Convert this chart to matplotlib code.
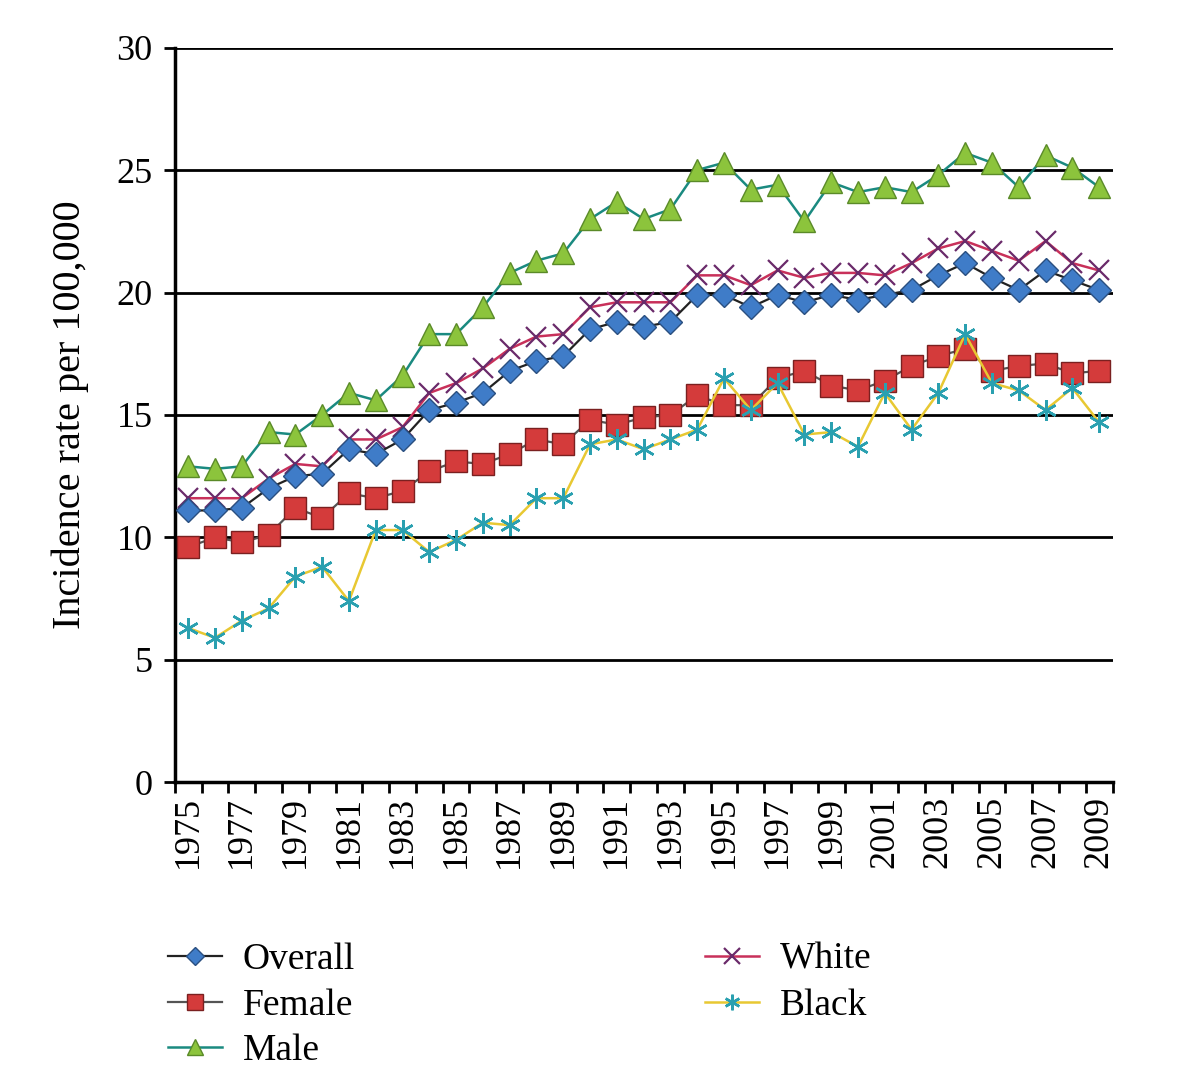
import numpy as np
import matplotlib.pyplot as plt
from matplotlib.ticker import FixedLocator

plt.rcParams['font.family'] = ['Liberation Serif', 'DejaVu Serif']

years = list(range(1975, 2010))

overall = [11.1, 11.1, 11.2, 12.0, 12.5, 12.6, 13.6, 13.4, 14.0, 15.2,
           15.5, 15.9, 16.8, 17.2, 17.4, 18.5, 18.8, 18.6, 18.8, 19.9,
           19.9, 19.4, 19.9, 19.6, 19.9, 19.7, 19.9, 20.1, 20.7, 21.2,
           20.6, 20.1, 20.9, 20.5, 20.1]
female = [9.6, 10.0, 9.8, 10.1, 11.2, 10.8, 11.8, 11.6, 11.9, 12.7,
          13.1, 13.0, 13.4, 14.0, 13.8, 14.8, 14.6, 14.9, 15.0, 15.8,
          15.4, 15.4, 16.5, 16.8, 16.2, 16.0, 16.4, 17.0, 17.4, 17.7,
          16.8, 17.0, 17.1, 16.7, 16.8]
male = [12.9, 12.8, 12.9, 14.3, 14.2, 15.0, 15.9, 15.6, 16.6, 18.3,
        18.3, 19.4, 20.8, 21.3, 21.6, 23.0, 23.7, 23.0, 23.4, 25.0,
        25.3, 24.2, 24.4, 22.9, 24.5, 24.1, 24.3, 24.1, 24.8, 25.7,
        25.3, 24.3, 25.6, 25.1, 24.3]
white = [11.6, 11.6, 11.6, 12.4, 13.0, 12.9, 14.0, 14.0, 14.5, 15.9,
         16.3, 16.9, 17.7, 18.2, 18.3, 19.4, 19.6, 19.6, 19.6, 20.7,
         20.7, 20.3, 20.9, 20.6, 20.8, 20.8, 20.7, 21.2, 21.8, 22.1,
         21.7, 21.3, 22.1, 21.2, 20.9]
black = [6.3, 5.9, 6.6, 7.1, 8.4, 8.8, 7.4, 10.3, 10.3, 9.4,
         9.9, 10.6, 10.5, 11.6, 11.6, 13.8, 14.0, 13.6, 14.0, 14.4,
         16.5, 15.2, 16.3, 14.2, 14.3, 13.7, 15.9, 14.4, 15.9, 18.3,
         16.3, 16.0, 15.2, 16.1, 14.7]

fig = plt.figure(figsize=(11.81, 10.82), dpi=100)
ax = fig.add_axes([0.148, 0.277, 0.794, 0.679])

x = np.arange(len(years))

l_overall, = ax.plot(x, overall, color='#222222', lw=1.6, marker='D', ms=12,
                     mfc='#3f7cc8', mec='#2a4f80', mew=1, label='Overall', zorder=5)
l_female, = ax.plot(x, female, color='#555555', lw=1.6, marker='s', ms=16,
                    mfc='#d43b3b', mec='#7a2020', mew=1, label='Female', zorder=4)
l_male, = ax.plot(x, male, color='#1a8a80', lw=1.8, marker='^', ms=16,
                  mfc='#8cc43c', mec='#5a8a28', mew=1, label='Male', zorder=4)
l_white, = ax.plot(x, white, color='#c8305a', lw=1.8, marker='x', ms=15,
                   mec='#6a2a6a', mew=1.6, label='White', zorder=4)
l_black, = ax.plot(x, black, color='#e8c832', lw=1.8, marker=(6, 2, 0), ms=15,
                   mec='#2aa0b0', mew=1.8, label='Black', zorder=4)

ax.set_ylim(0, 30)
ax.set_xlim(-0.5, len(years) - 0.5)
ax.set_yticks(range(0, 31, 5))
ax.yaxis.grid(True, color='black', lw=2)
ax.set_axisbelow(True)

ax.set_xticks(x[::2])
ax.set_xticklabels([str(y) for y in years[::2]], rotation=90, fontsize=26)
ax.tick_params(axis='x', which='major', length=0, pad=10)
ax.xaxis.set_minor_locator(FixedLocator(np.arange(-0.5, len(years), 1)))
ax.tick_params(axis='x', which='minor', length=8, width=2, direction='out')
ax.tick_params(axis='y', length=8, width=2, labelsize=26, pad=8)

for s in ['top', 'right']:
    ax.spines[s].set_visible(False)
ax.spines['left'].set_linewidth(2.5)
ax.spines['bottom'].set_linewidth(2.5)

ax.set_ylabel('Incidence rate per 100,000', fontsize=29, labelpad=20)

leg_kw = dict(loc='upper left', frameon=False, fontsize=27, handlelength=1.45,
              labelspacing=0.3, handletextpad=0.55, borderpad=0, borderaxespad=0,
              markerscale=0.75)
leg1 = fig.legend(handles=[l_overall, l_female, l_male],
                  bbox_to_anchor=(0.142, 0.129), **leg_kw)
leg2 = fig.legend(handles=[l_white, l_black],
                  bbox_to_anchor=(0.597, 0.129), **leg_kw)

fig.savefig('out.png', dpi=100, facecolor='white')
